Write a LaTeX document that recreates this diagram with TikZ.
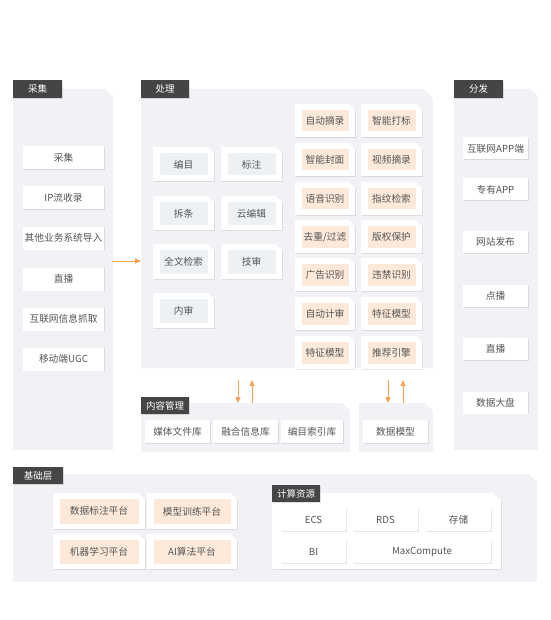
\documentclass[tikz,border=0pt]{standalone}
\usepackage{fontspec}
\setmainfont{Noto Sans CJK SC}
\usetikzlibrary{shadows,arrows.meta}
\definecolor{panelc}{HTML}{F0F2F5}
\definecolor{tabc}{HTML}{454545}
\definecolor{innerg}{HTML}{EEF1F4}
\definecolor{peach}{HTML}{FDE9D9}
\definecolor{txtc}{HTML}{555555}
\definecolor{arrc}{HTML}{F6A358}
\tikzset{
  boxshadow/.style={drop shadow={shadow xshift=0.8pt,shadow yshift=-0.8pt,fill=black,opacity=0.10}},
  lbl/.style={inner sep=0pt,text=txtc,font=\fontsize{9.7}{11}\selectfont},
  plainbox/.style={fill=white,boxshadow,inner sep=0pt,text=txtc,font=\fontsize{9.7}{11}\selectfont},
  tab/.style={fill=tabc,inner sep=0pt,text=white,font=\fontsize{9.5}{11}\selectfont,
    drop shadow={shadow xshift=1pt,shadow yshift=-1pt,fill=black,opacity=0.12}},
  flow/.style={draw=arrc,line width=0.8pt,-{Triangle[length=6pt,width=5pt]}}
}
\newcommand\panelbg[6][panelc]{%
  \fill[#1] (#2,#3) -- ({#4-#6},#3) -- (#4,{#3+#6}) -- (#4,#5) -- (#2,#5) -- cycle;}
\newcommand\foldbox[7]{%
  \fill[white,boxshadow] (#2,#3) -- ({#4-6},#3) -- (#4,{#3+6}) -- (#4,#5) -- (#2,#5) -- cycle;
  \fill[#6] ({#2+6.5},{#3+6}) rectangle ({#4-6.5},{#5-5.5});
  \node[lbl] (#1) at ({(#2+#4)/2},{(#3+#5)/2+0.3}) {#7};}
\begin{document}
\begin{tikzpicture}[x=1pt,y=-1pt]
\useasboundingbox[fill=white] (0,0) rectangle (550,620);
% panels
\panelbg{13}{89}{113}{450}{8}
\panelbg{141}{89}{433}{368}{10}
\panelbg{454}{89}{538}{450}{8}
\panelbg{141}{403}{350}{452}{8}
\panelbg{359}{403}{433}{452}{8}
\panelbg{13}{474}{537}{582}{8}
\fill[white,boxshadow] (272,493) -- (493,493) -- (501,501) -- (501,569) -- (272,569) -- cycle;
% tabs
\node[tab,minimum width=49pt,minimum height=18pt] (tcj) at (37.5,89) {采集};
\node[tab,minimum width=48pt,minimum height=18pt] (tcl) at (165,89) {处理};
\node[tab,minimum width=49pt,minimum height=18pt] (tff) at (478.5,89) {分发};
\node[tab,minimum width=48pt,minimum height=17pt] (tnr) at (165,405.5) {内容管理};
\node[tab,minimum width=50pt,minimum height=17pt] (tjc) at (38,475.5) {基础层};
\node[tab,minimum width=48pt,minimum height=17pt] (tjs) at (296,493.5) {计算资源};
% 采集 boxes
\foreach \n/\y/\t in {c1/158/采集,c2/198/IP流收录,c3/238/其他业务系统导入,c4/279/直播,c5/319/互联网信息抓取,c6/359/移动端UGC}
  \node[plainbox,minimum width=81pt,minimum height=23pt] (\n) at (63.5,\y) {\t};
% 分发 boxes
\foreach \n/\y/\t in {d1/148.5/互联网APP端,d2/189.5/专有APP,d3/242/网站发布,d4/296/点播,d5/349/直播,d6/402.5/数据大盘}
  \node[plainbox,minimum width=65pt,minimum height=22pt] (\n) at (495.5,\y) {\t};
% 处理 left boxes
\foldbox{p1}{153}{147}{214}{181}{innerg}{编目}
\foldbox{p2}{221}{147}{282}{181}{innerg}{标注}
\foldbox{p3}{153}{196}{214}{230}{innerg}{拆条}
\foldbox{p4}{221}{196}{282}{230}{innerg}{云编辑}
\foldbox{p5}{153}{244}{214}{279}{innerg}{全文检索}
\foldbox{p6}{221}{244}{282}{279}{innerg}{技审}
\foldbox{p7}{153}{293}{214}{328}{innerg}{内审}
% 处理 right boxes
\foldbox{r1}{295}{104}{355}{137}{peach}{自动摘录}
\foldbox{r2}{361}{104}{422}{137}{peach}{智能打标}
\foldbox{r3}{295}{143}{355}{176}{peach}{智能封面}
\foldbox{r4}{361}{143}{422}{176}{peach}{视频摘录}
\foldbox{r5}{295}{182}{355}{215}{peach}{语音识别}
\foldbox{r6}{361}{182}{422}{215}{peach}{指纹检索}
\foldbox{r7}{295}{220}{355}{253}{peach}{去重/过滤}
\foldbox{r8}{361}{220}{422}{253}{peach}{版权保护}
\foldbox{r9}{295}{258}{355}{291}{peach}{广告识别}
\foldbox{r10}{361}{258}{422}{291}{peach}{违禁识别}
\foldbox{r11}{295}{297}{355}{330}{peach}{自动计审}
\foldbox{r12}{361}{297}{422}{330}{peach}{特征模型}
\foldbox{r13}{295}{336}{355}{369}{peach}{特征模型}
\foldbox{r14}{361}{336}{422}{369}{peach}{推荐引擎}
% 内容管理 / 数据模型
\node[plainbox,minimum width=65pt,minimum height=23pt] (m1) at (177.5,431.5) {媒体文件库};
\node[plainbox,minimum width=65pt,minimum height=23pt] (m2) at (245.5,431.5) {融合信息库};
\node[plainbox,minimum width=62pt,minimum height=23pt] (m3) at (312,431.5) {编目索引库};
\node[plainbox,minimum width=65pt,minimum height=23pt] (dm) at (395.5,431.5) {数据模型};
% 基础层
\foldbox{b1}{53}{493}{145}{529}{peach}{数据标注平台}
\foldbox{b2}{147}{493}{237}{529}{peach}{模型训练平台}
\foldbox{b3}{53}{534}{145}{569}{peach}{机器学习平台}
\foldbox{b4}{147}{534}{237}{569}{peach}{AI算法平台}
% 计算资源
\node[plainbox,minimum width=65pt,minimum height=23pt] (k1) at (313.5,519.5) {ECS};
\node[plainbox,minimum width=65pt,minimum height=23pt] (k2) at (385.5,519.5) {RDS};
\node[plainbox,minimum width=65pt,minimum height=23pt] (k3) at (458.5,519.5) {存储};
\node[plainbox,minimum width=65pt,minimum height=23pt] (k4) at (313.5,551.5) {BI};
\node[plainbox,minimum width=138pt,minimum height=23pt] (k5) at (422,551.5) {MaxCompute};
% connectors
\coordinate (aS) at (112,261);
\coordinate (aE) at (141,261);
\coordinate (v1t) at (238,380); \coordinate (v1b) at (238,403);
\coordinate (v2t) at (252,380); \coordinate (v2b) at (252,403);
\coordinate (v3t) at (388,380); \coordinate (v3b) at (388,403);
\coordinate (v4t) at (403,380); \coordinate (v4b) at (403,403);
\draw[flow] (aS) -- (aE);
\draw[flow] (v1t) -- (v1b);
\draw[flow] (v2b) -- (v2t);
\draw[flow] (v3t) -- (v3b);
\draw[flow] (v4b) -- (v4t);
\end{tikzpicture}
\end{document}
